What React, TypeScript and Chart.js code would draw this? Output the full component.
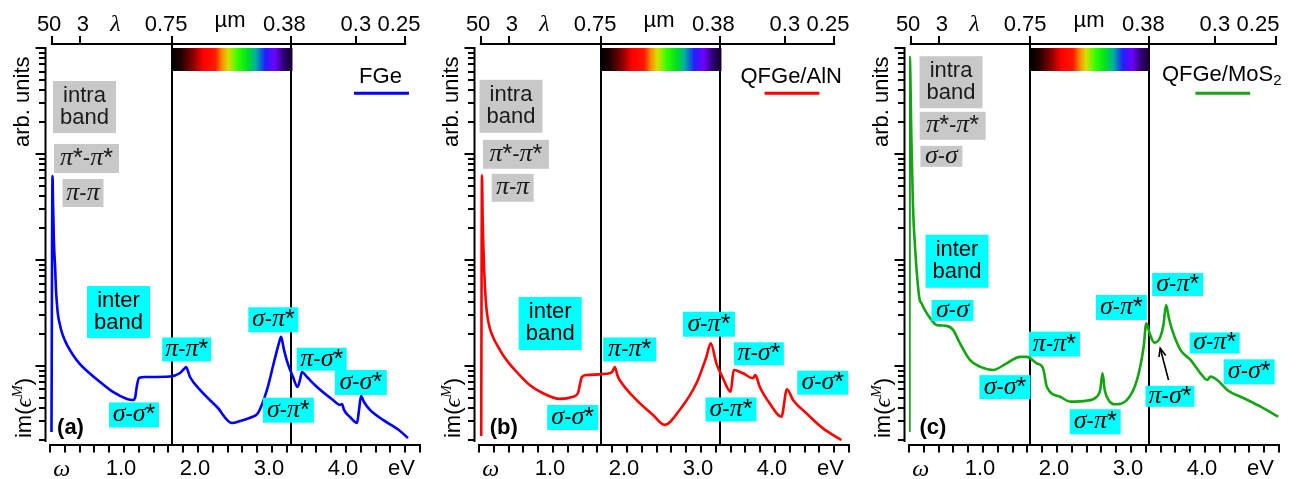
import React, { useEffect, useRef } from 'react';
import { Chart, registerables } from 'chart.js';
Chart.register(...registerables);

// ---------- data (photon energy in eV, im(eps) in arbitrary units) ----------
const energyA = [0.02, 0.034, 0.04, 0.054, 0.068, 0.081, 0.095, 0.108, 0.135, 0.162, 0.23, 0.311, 0.405, 0.5, 0.676, 0.851, 1.04, 1.12, 1.149, 1.176, 1.203, 1.284, 1.622, 1.757, 1.811, 1.838, 1.892, 2.027, 2.257, 2.459, 2.568, 2.73, 2.811, 2.932, 3.027, 3.095, 3.122, 3.162, 3.216, 3.284, 3.345, 3.378, 3.405, 3.473, 3.608, 3.824, 3.919, 3.946, 3.973, 4.054, 4.149, 4.176, 4.203, 4.243, 4.324, 4.5, 4.73, 4.838];
const imEpsA = [0.238, 62, 36.8, 13.9, 8.97, 5.21, 3.76, 3.03, 2.44, 2.05, 1.58, 1.27, 1.04, 0.897, 0.706, 0.569, 0.489, 0.478, 0.499, 0.662, 0.77, 0.787, 0.796, 0.859, 0.937, 0.978, 0.787, 0.594, 0.41, 0.29, 0.303, 0.33, 0.36, 0.594, 1.09, 1.65, 1.88, 1.42, 1.04, 0.787, 0.634, 0.738, 0.878, 0.787, 0.634, 0.478, 0.429, 0.438, 0.385, 0.33, 0.29, 0.385, 0.521, 0.457, 0.385, 0.31, 0.244, 0.209];

const energyB = [0.03, 0.04, 0.05, 0.07, 0.091, 0.111, 0.145, 0.189, 0.253, 0.324, 0.415, 0.505, 0.685, 0.865, 1.091, 1.27, 1.338, 1.368, 1.388, 1.455, 1.766, 1.807, 1.834, 1.874, 1.901, 2.127, 2.351, 2.509, 2.712, 2.938, 3.073, 3.131, 3.208, 3.297, 3.401, 3.442, 3.568, 3.703, 3.735, 3.793, 3.928, 4.086, 4.162, 4.243, 4.424, 4.649, 4.897];
const imEpsB = [0.219, 63, 23.8, 8.05, 4.19, 3.03, 2.28, 1.88, 1.54, 1.27, 1.04, 0.884, 0.662, 0.553, 0.489, 0.513, 0.556, 0.69, 0.782, 0.822, 0.853, 0.897, 0.978, 0.805, 0.738, 0.478, 0.345, 0.278, 0.385, 0.687, 1.22, 1.64, 1.06, 0.766, 0.573, 0.917, 0.853, 0.766, 0.822, 0.638, 0.445, 0.332, 0.603, 0.478, 0.358, 0.258, 0.2];

const energyC = [0.005, 0.01, 0.033, 0.054, 0.087, 0.122, 0.145, 0.168, 0.213, 0.304, 0.371, 0.507, 0.596, 0.686, 0.822, 0.958, 1.138, 1.32, 1.5, 1.591, 1.726, 1.794, 1.818, 1.862, 2.042, 2.178, 2.404, 2.539, 2.584, 2.615, 2.645, 2.696, 2.787, 2.946, 3.081, 3.171, 3.207, 3.252, 3.316, 3.397, 3.438, 3.474, 3.512, 3.556, 3.668, 3.804, 3.939, 4.03, 4.075, 4.165, 4.301, 4.526, 4.752, 4.99];
const imEpsC = [0.238, 822, 135.6, 31.8, 11.6, 5.6, 4.19, 3.93, 3.38, 2.72, 2.44, 2.39, 2.19, 1.65, 1.14, 0.985, 0.917, 1.06, 1.22, 1.22, 1.06, 1.0, 0.917, 0.638, 0.513, 0.461, 0.471, 0.513, 0.594, 0.853, 0.594, 0.478, 0.435, 0.478, 0.738, 1.52, 2.53, 2.03, 1.66, 1.89, 2.44, 3.76, 2.84, 2.19, 1.42, 1.14, 0.853, 0.738, 0.793, 0.738, 0.594, 0.496, 0.413, 0.332];

// axis tick values / labels
const bottomTickValues = [1, 2, 3, 4];
const bottomTickLabels = ['1.0', '2.0', '3.0', '4.0'];
const wavelengthLabels = ['50', '3', '0.75', '0.38', '0.3', '0.25'];
const wavelengthTickEvAB = [0.025, 0.41, 1.653, 3.263, 4.133, 4.8];
const wavelengthTickEvC = [0.025, 0.41, 1.641, 3.243, 4.133, 4.96];
const wavelengthLabelEv = [-0.012, 0.444, 1.57, 3.168, 4.133, 4.716];

const SANS = '"Liberation Sans", Arial, sans-serif';
const SERIF = '"Liberation Serif", "Times New Roman", serif';
const GRAY = '#c8c8c8';
const CYAN = '#00ffff';

type Ann = { lines?: string[]; math?: string; x: number; ly: number; w: number; h: number; bg: string };

const annA: Ann[] = [
  { lines: ['intra', 'band'], x: 0.466, ly: 2.443, w: 63, h: 52, bg: GRAY },
  { math: 'π*-π*', x: 0.493, ly: 1.958, w: 65, h: 29, bg: GRAY },
  { math: 'π-π', x: 0.446, ly: 1.632, w: 41, h: 28, bg: GRAY },
  { lines: ['inter', 'band'], x: 0.926, ly: 0.509, w: 63, h: 52, bg: CYAN },
  { math: 'σ-σ*', x: 1.135, ly: -0.462, w: 50, h: 25, bg: CYAN },
  { math: 'π-π*', x: 1.847, ly: 0.156, w: 49, h: 24, bg: CYAN },
  { math: 'σ-π*', x: 3.018, ly: 0.436, w: 50, h: 25, bg: CYAN },
  { math: 'σ-π*', x: 3.221, ly: -0.417, w: 51, h: 25, bg: CYAN },
  { math: 'π-σ*', x: 3.672, ly: 0.064, w: 50, h: 23, bg: CYAN },
  { math: 'σ-σ*', x: 4.2, ly: -0.156, w: 52, h: 25, bg: CYAN },
];
const annB: Ann[] = [
  { lines: ['intra', 'band'], x: 0.432, ly: 2.45, w: 63, h: 53, bg: GRAY },
  { math: 'π*-π*', x: 0.499, ly: 1.997, w: 66, h: 29, bg: GRAY },
  { math: 'π-π', x: 0.455, ly: 1.681, w: 42, h: 28, bg: GRAY },
  { lines: ['inter', 'band'], x: 0.962, ly: 0.401, w: 63, h: 53, bg: CYAN },
  { math: 'σ-σ*', x: 1.266, ly: -0.486, w: 51, h: 25, bg: CYAN },
  { math: 'π-π*', x: 2.036, ly: 0.156, w: 53, h: 24, bg: CYAN },
  { math: 'σ-π*', x: 3.107, ly: 0.394, w: 52, h: 25, bg: CYAN },
  { math: 'σ-π*', x: 3.405, ly: -0.41, w: 51, h: 24, bg: CYAN },
  { math: 'π-σ*', x: 3.782, ly: 0.115, w: 50, h: 23, bg: CYAN },
  { math: 'σ-σ*', x: 4.645, ly: -0.158, w: 51, h: 24, bg: CYAN },
];
const annC: Ann[] = [
  { lines: ['intra', 'band'], x: 0.568, ly: 2.677, w: 63, h: 52, bg: GRAY },
  { math: 'π*-π*', x: 0.59, ly: 2.266, w: 66, h: 28, bg: GRAY },
  { math: 'σ-σ', x: 0.438, ly: 1.978, w: 42, h: 21, bg: GRAY },
  { lines: ['inter', 'band'], x: 0.649, ly: 0.988, w: 63, h: 53, bg: CYAN },
  { math: 'σ-σ', x: 0.588, ly: 0.524, w: 42, h: 21, bg: CYAN },
  { math: 'σ-σ*', x: 1.297, ly: -0.2, w: 51, h: 24, bg: CYAN },
  { math: 'π-π*', x: 1.965, ly: 0.206, w: 51, h: 25, bg: CYAN },
  { math: 'σ-π*', x: 2.516, ly: -0.526, w: 51, h: 25, bg: CYAN },
  { math: 'σ-π*', x: 2.87, ly: 0.552, w: 51, h: 25, bg: CYAN },
  { math: 'σ-π*', x: 3.631, ly: 0.769, w: 51, h: 23, bg: CYAN },
  { math: 'σ-π*', x: 4.131, ly: 0.217, w: 50, h: 21, bg: CYAN },
  { math: 'σ-σ*', x: 4.597, ly: -0.055, w: 51, h: 25, bg: CYAN },
  { math: 'π-σ*', x: 3.527, ly: -0.286, w: 49, h: 21, bg: CYAN },
];

type Panel = {
  energy: number[]; values: number[]; color: string; tag: string; tagX: number;
  legend: string; legendSub?: string; legendX: number; legendLine: [number, number]; legendLy: number;
  topTicks: number[]; ann: Ann[]; arrow?: [number, number, number, number];
  left: number; width: number; padLeft: number;
};

const panels: Panel[] = [
  { energy: energyA, values: imEpsA, color: '#0000ff', tag: '(a)', tagX: 0.277, legend: 'FGe', legendX: 4.466, legendLine: [4.108, 4.851], legendLy: 2.673,
    topTicks: wavelengthTickEvAB, ann: annA, left: 0, width: 430, padLeft: 50 },
  { energy: energyB, values: imEpsB, color: '#ff0000', tag: '(b)', tagX: 0.334, legend: 'QFGe/AlN', legendX: 4.219, legendLine: [3.86, 4.6], legendLy: 2.673,
    topTicks: wavelengthTickEvAB, ann: annB, left: 430, width: 430, padLeft: 49 },
  { energy: energyC, values: imEpsC, color: '#14a514', tag: '(c)', tagX: 0.324, legend: 'QFGe/MoS', legendSub: '2', legendX: 4.226, legendLine: [3.87, 4.61], legendLy: 2.69,
    topTicks: wavelengthTickEvC, ann: annC, arrow: [3.507, -0.132, 3.395, 0.167], left: 860, width: 439, padLeft: 49 },
];

function drawMath(ctx: CanvasRenderingContext2D, s: string, cx: number, cy: number, color: string) {
  const segs: { t: string; font: string; dy: number }[] = [];
  for (const ch of s) {
    if (ch === '*') segs.push({ t: '*', font: `25px ${SANS}`, dy: 1 });
    else if (ch === '-') segs.push({ t: '-', font: `22px ${SANS}`, dy: 0 });
    else segs.push({ t: ch, font: `italic 26px ${SERIF}`, dy: 0 });
  }
  let total = 0;
  const widths = segs.map((sg) => { ctx.font = sg.font; const w = ctx.measureText(sg.t).width; total += w; return w; });
  let x = cx - total / 2;
  const base = cy + 6.5;
  ctx.fillStyle = color;
  ctx.textAlign = 'left';
  ctx.textBaseline = 'alphabetic';
  segs.forEach((sg, i) => { ctx.font = sg.font; ctx.fillText(sg.t, x, base + sg.dy); x += widths[i]; });
}

function makePlugin(p: Panel) {
  return {
    id: 'panelDecor',
    beforeDatasetsDraw(chart: any) {
      const { ctx, chartArea } = chart;
      const xs = chart.scales.x;
      ctx.save();
      ctx.strokeStyle = '#000';
      ctx.lineWidth = 2;
      [p.topTicks[2], p.topTicks[3]].forEach((e) => {
        const px = Math.round(xs.getPixelForValue(e));
        ctx.beginPath(); ctx.moveTo(px, chartArea.top - 4); ctx.lineTo(px, chartArea.bottom + 3); ctx.stroke();
      });
      ctx.restore();
    },
    afterDatasetsDraw(chart: any) {
      const { ctx, chartArea } = chart;
      const xs = chart.scales.x;
      const ys = chart.scales.y;
      const Y = (ly: number) => ys.getPixelForValue(Math.pow(10, ly));
      ctx.save();
      // visible spectrum bar
      const x1 = xs.getPixelForValue(p.topTicks[2]);
      const x2 = xs.getPixelForValue(p.topTicks[3]);
      const yb = Y(2.783);
      const g = ctx.createLinearGradient(x1, 0, x2, 0);
      const stops: [number, string][] = [[0, '#000000'], [0.07, '#200000'], [0.18, '#900000'], [0.26, '#ff0000'], [0.36, '#ff1800'], [0.41, '#ff8000'], [0.47, '#d8e000'], [0.55, '#30ff00'], [0.63, '#00e020'], [0.7, '#00b0a0'], [0.78, '#2020ff'], [0.86, '#7000ff'], [0.93, '#30007a'], [1, '#150030']];
      stops.forEach(([o, c]) => g.addColorStop(o, c));
      ctx.fillStyle = g;
      ctx.fillRect(x1 - 1, chartArea.top, x2 - x1 + 2, yb - chartArea.top);
      // annotation boxes
      p.ann.forEach((a) => {
        const cx = xs.getPixelForValue(a.x);
        const cy = Y(a.ly);
        ctx.fillStyle = a.bg;
        ctx.fillRect(cx - a.w / 2, cy - a.h / 2, a.w, a.h);
        const tc = a.bg === GRAY ? '#1a1a1a' : '#000';
        if (a.lines) {
          ctx.fillStyle = tc;
          ctx.font = `22px ${SANS}`;
          ctx.textAlign = 'center';
          ctx.textBaseline = 'alphabetic';
          ctx.fillText(a.lines[0], cx, cy - 5);
          ctx.fillText(a.lines[1], cx, cy + 16.5);
        } else if (a.math) {
          drawMath(ctx, a.math, cx, cy, tc);
        }
      });
      // arrow
      if (p.arrow) {
        const [ax, ay, bx, by] = p.arrow;
        const sx = xs.getPixelForValue(ax), sy = Y(ay), tx = xs.getPixelForValue(bx), ty = Y(by);
        ctx.strokeStyle = '#000'; ctx.lineWidth = 1.6;
        ctx.beginPath(); ctx.moveTo(sx, sy); ctx.lineTo(tx, ty); ctx.stroke();
        const ang = Math.atan2(ty - sy, tx - sx);
        const L = 9;
        ctx.beginPath();
        ctx.moveTo(tx + L * Math.cos(ang + Math.PI - 0.4), ty + L * Math.sin(ang + Math.PI - 0.4));
        ctx.lineTo(tx, ty);
        ctx.lineTo(tx + L * Math.cos(ang + Math.PI + 0.4), ty + L * Math.sin(ang + Math.PI + 0.4));
        ctx.stroke();
      }
      // panel tag
      ctx.fillStyle = '#000';
      ctx.font = `bold 22px ${SANS}`;
      ctx.textAlign = 'center';
      ctx.textBaseline = 'alphabetic';
      ctx.fillText(p.tag, xs.getPixelForValue(p.tagX), Y(-0.572) + 7);
      // legend
      const lb = Y(p.legendLy);
      ctx.font = `22px ${SANS}`;
      const mainW = ctx.measureText(p.legend).width;
      let subW = 0;
      if (p.legendSub) { ctx.font = `15px ${SANS}`; subW = ctx.measureText(p.legendSub).width; }
      const lx = xs.getPixelForValue(p.legendX) - (mainW + subW) / 2;
      ctx.textAlign = 'left';
      ctx.font = `22px ${SANS}`;
      ctx.fillText(p.legend, lx, lb);
      if (p.legendSub) { ctx.font = `15px ${SANS}`; ctx.fillText(p.legendSub, lx + mainW, lb + 4); }
      ctx.strokeStyle = p.color; ctx.lineWidth = 3;
      const ly = Y(2.573);
      ctx.beginPath(); ctx.moveTo(xs.getPixelForValue(p.legendLine[0]), ly); ctx.lineTo(xs.getPixelForValue(p.legendLine[1]), ly); ctx.stroke();
      ctx.restore();
    },
    afterDraw(chart: any) {
      const { ctx, chartArea } = chart;
      const xs = chart.scales.x;
      const ys = chart.scales.y;
      ctx.save();
      ctx.strokeStyle = '#000';
      ctx.fillStyle = '#000';
      ctx.lineWidth = 2;
      // left axis
      const ax = chartArea.left - 4.5;
      ctx.beginPath(); ctx.moveTo(ax, chartArea.top - 1); ctx.lineTo(ax, chartArea.bottom + 1); ctx.stroke();
      for (let d = -1; d <= 3; d++) {
        for (let m = 1; m <= 9; m++) {
          const v = m * Math.pow(10, d);
          if (v < 0.195 || v > 1001) continue;
          const py = Math.round(ys.getPixelForValue(v));
          const len = m === 1 ? 10 : 6.5;
          ctx.beginPath(); ctx.moveTo(ax, py); ctx.lineTo(ax - len, py); ctx.stroke();
        }
      }
      // bottom axis
      const by = chartArea.bottom + 4;
      ctx.beginPath(); ctx.moveTo(chartArea.left - 1, by); ctx.lineTo(chartArea.right + 1, by); ctx.stroke();
      for (let i = 0; i <= 25; i++) {
        const px = Math.round(xs.getPixelForValue(i * 0.2));
        ctx.beginPath(); ctx.moveTo(px, by); ctx.lineTo(px, by + 7.5); ctx.stroke();
      }
      ctx.font = `22px ${SANS}`;
      ctx.textAlign = 'center';
      ctx.textBaseline = 'alphabetic';
      bottomTickValues.forEach((v, i) => ctx.fillText(bottomTickLabels[i], xs.getPixelForValue(v) - 3, 475));
      ctx.fillText('eV', xs.getPixelForValue(4.75), 475);
      ctx.font = `italic 24px ${SERIF}`;
      ctx.fillText('ω', xs.getPixelForValue(0.16), 476);
      // top axis
      const ty = chartArea.top - 4;
      const t0 = xs.getPixelForValue(p.topTicks[0]);
      const t1 = xs.getPixelForValue(p.topTicks[p.topTicks.length - 1]);
      ctx.beginPath(); ctx.moveTo(t0 - 1, ty); ctx.lineTo(t1 + 1, ty); ctx.stroke();
      p.topTicks.forEach((e) => {
        const px = Math.round(xs.getPixelForValue(e));
        ctx.beginPath(); ctx.moveTo(px, ty); ctx.lineTo(px, ty - 8); ctx.stroke();
      });
      ctx.font = `22px ${SANS}`;
      wavelengthLabels.forEach((l, i) => ctx.fillText(l, xs.getPixelForValue(wavelengthLabelEv[i]), 30.5));
      ctx.fillText('µm', xs.getPixelForValue(2.432), 27);
      ctx.font = `italic 24px ${SERIF}`;
      ctx.fillText('λ', xs.getPixelForValue(0.883), 30.5);
      // y-axis titles
      ctx.save();
      ctx.translate(chartArea.left - 21.5, 101.7);
      ctx.rotate(-Math.PI / 2);
      ctx.font = `22px ${SANS}`;
      ctx.textAlign = 'center';
      ctx.fillText('arb. units', 0, 0);
      ctx.restore();
      ctx.save();
      ctx.translate(chartArea.left - 19.5, 408);
      ctx.rotate(-Math.PI / 2);
      const parts: { t: string; font: string; dy: number }[] = [
        { t: 'im(', font: `22px ${SANS}`, dy: 0 },
        { t: 'ϵ', font: `italic 24px ${SERIF}`, dy: 0 },
        { t: 'M', font: `italic 15px ${SERIF}`, dy: -9 },
        { t: ')', font: `22px ${SANS}`, dy: 0 },
      ];
      let tw = 0;
      const ws = parts.map((pt) => { ctx.font = pt.font; const w = ctx.measureText(pt.t).width; tw += w; return w; });
      let xx = -tw / 2;
      ctx.textAlign = 'left';
      parts.forEach((pt, i) => { ctx.font = pt.font; ctx.fillText(pt.t, xx, pt.dy); xx += ws[i]; });
      ctx.restore();
      ctx.restore();
    },
  };
}

function PanelChart({ p }: { p: Panel }) {
  const ref = useRef<HTMLCanvasElement | null>(null);
  useEffect(() => {
    if (!ref.current) return;
    const chart = new Chart(ref.current, {
      type: 'line',
      data: {
        datasets: [{
          data: p.energy.map((e, i) => ({ x: e, y: p.values[i] })),
          borderColor: p.color,
          borderWidth: 2.6,
          pointRadius: 0,
          fill: false,
          cubicInterpolationMode: 'monotone',
        }],
      },
      options: {
        responsive: false,
        animation: false,
        events: [],
        layout: { padding: { left: p.padLeft, right: p.width - p.padLeft - 370, top: 48, bottom: 38 } },
        scales: {
          x: { type: 'linear', min: 0, max: 5, display: false },
          y: { type: 'logarithmic', min: 0.196, max: 1000, display: false },
        },
        plugins: { legend: { display: false }, tooltip: { enabled: false } },
      },
      plugins: [makePlugin(p)],
    } as any);
    return () => chart.destroy();
  }, [p]);
  return (
    <canvas ref={ref} width={p.width} height={479}
      style={{ position: 'absolute', left: p.left, top: 0, width: p.width, height: 479 }} />
  );
}

export default function App() {
  return (
    <div style={{ position: 'absolute', left: 0, top: 0, width: 1299, height: 479, background: '#fff' }}>
      {panels.map((p) => <PanelChart key={p.tag} p={p} />)}
    </div>
  );
}
